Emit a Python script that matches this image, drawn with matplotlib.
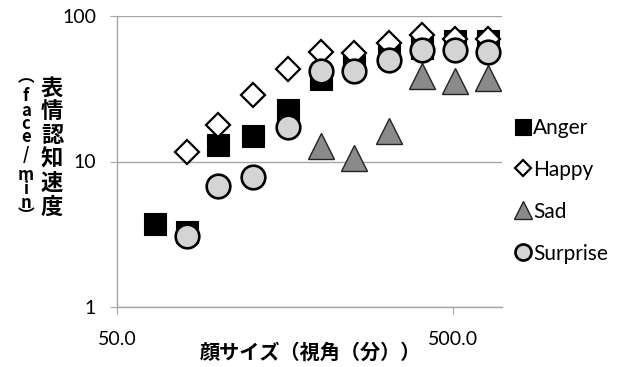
import matplotlib
matplotlib.use("Agg")
import matplotlib.pyplot as plt
from matplotlib.ticker import NullLocator, FixedLocator, FixedFormatter

# face size (visual angle, arcmin) and recognition speed (faces per minute)
size = [65, 81, 100, 127, 162, 202, 254, 322, 404, 508, 638]
anger = [3.7, 3.3, 12.9, 14.9, 22.5, 36.8, 45, 53, 60, 67, 67]
happy_size = size[1:]
happy = [11.6, 17.7, 28.7, 43, 57, 56, 65.5, 74, 70, 70]
sad_size = size[5:]
sad = [12.7, 10.6, 16.1, 39, 35.8, 37.2]
surprise_size = size[1:]
surprise = [3.1, 6.8, 7.8, 17.4, 42, 41.8, 50, 58, 58, 56.7]

x_ticks = [50, 500]
x_tick_labels = ["50.0", "500.0"]
y_ticks = [1, 10, 100]
y_tick_labels = ["1", "10", "100"]

latin = ["Lato", "DejaVu Sans"]
cjk = ["Noto Sans CJK JP", "DejaVu Sans"]
grey = "#a6a6a6"

W, H = 623, 367
fig = plt.figure(figsize=(W / 100, H / 100), dpi=100)
ax = fig.add_axes([117 / W, 1 - 307 / H, (502 - 117) / W, (307 - 16) / H])
ax.set_xscale("log")
ax.set_yscale("log")
ax.set_xlim(50, 700)
ax.set_ylim(1, 100)

ax.plot(size, anger, "s", ms=16.5, mfc="black", mec="black", mew=0.8, label="Anger")
ax.plot(happy_size, happy, "D", ms=12.5, mfc="white", mec="black", mew=1.6, label="Happy")
ax.plot(sad_size, sad, "^", ms=18.5, mfc="#8a8a8a", mec="#222222", mew=1.0, label="Sad")
ax.plot(surprise_size, surprise, "o", ms=17, mfc="#d4d4d4", mec="black", mew=1.9, label="Surprise")

ax.xaxis.set_major_locator(FixedLocator(x_ticks))
ax.xaxis.set_major_formatter(FixedFormatter(x_tick_labels))
ax.xaxis.set_minor_locator(NullLocator())
ax.yaxis.set_major_locator(FixedLocator(y_ticks))
ax.yaxis.set_major_formatter(FixedFormatter(y_tick_labels))
ax.yaxis.set_minor_locator(NullLocator())

ax.yaxis.grid(True, color=grey, lw=1.0)
ax.set_axisbelow(True)
for s in ["top", "right"]:
    ax.spines[s].set_visible(False)
for s in ["left", "bottom"]:
    ax.spines[s].set_color(grey)
    ax.spines[s].set_linewidth(1.0)
ax.tick_params(axis="x", length=5, color=grey, pad=12)
ax.tick_params(axis="y", length=5, color=grey, pad=10)
for lab in ax.get_xticklabels() + ax.get_yticklabels():
    lab.set_fontfamily(latin)
    lab.set_fontsize(14)

fig.text(310 / W, 1 - 352 / H, "顔サイズ（視角（分））", family=cjk, fontsize=14.5,
         fontweight="bold", ha="center", va="center")

# vertical y-axis title, one character per line, two columns read right to left
for i, ch in enumerate("表情認知速度"):
    fig.text(52 / W, 1 - (88 + i * 23.8) / H, ch, family=cjk, fontsize=16,
             fontweight="bold", ha="center", va="center")
left_y = [77, 96, 111, 124, 137, 155, 175, 189, 203, 216]
for ch, y in zip("︵face/min︶", left_y):
    fig.text(26 / W, 1 - y / H, ch, family=cjk, fontsize=12,
             fontweight="bold", ha="center", va="center")

ax.legend(loc="upper left", bbox_to_anchor=(0.995, 0.70), frameon=False,
          markerscale=0.68, handlelength=0.8, handletextpad=0.1,
          labelspacing=1.05, prop={"family": latin, "size": 15},
          borderaxespad=0.3)

fig.savefig("out.png", dpi=100)
